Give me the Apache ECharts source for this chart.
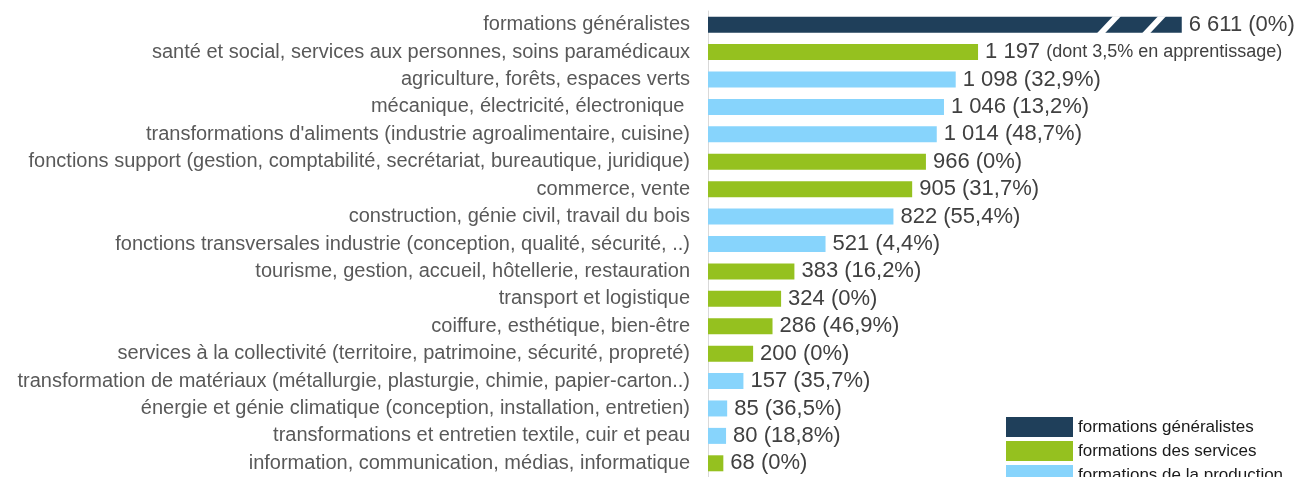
<!DOCTYPE html>
<html>
<head>
<meta charset="utf-8">
<script src="https://cdn.jsdelivr.net/npm/echarts@6/dist/echarts.min.js"></script>
<style>
  html, body { margin: 0; padding: 0; background: #fff; }
  #chart { width: 1296px; height: 477px; }
</style>
</head>
<body>
<div id="chart"></div>
<script>
var categories = [
    'formations généralistes',
    'santé et social, services aux personnes, soins paramédicaux',
    'agriculture, forêts, espaces verts',
    'mécanique, électricité, électronique ',
    "transformations d'aliments (industrie agroalimentaire, cuisine)",
    'fonctions support (gestion, comptabilité, secrétariat, bureautique, juridique)',
    'commerce, vente',
    'construction, génie civil, travail du bois',
    'fonctions transversales industrie (conception, qualité, sécurité, ..)',
    'tourisme, gestion, accueil, hôtellerie, restauration',
    'transport et logistique',
    'coiffure, esthétique, bien-être',
    'services à la collectivité (territoire, patrimoine, sécurité, propreté)',
    'transformation de matériaux (métallurgie, plasturgie, chimie, papier-carton..)',
    'énergie et génie climatique (conception, installation, entretien)',
    'transformations et entretien textile, cuir et peau',
    'information, communication, médias, informatique'
];
var values = [6611, 1197, 1098, 1046, 1014, 966, 905, 822, 521, 383, 324, 286, 200, 157, 85, 80, 68];
var shares = ['0%', 'dont 3,5% en apprentissage', '32,9%', '13,2%', '48,7%', '0%', '31,7%', '55,4%',
    '4,4%', '16,2%', '0%', '46,9%', '0%', '35,7%', '36,5%', '18,8%', '0%'];
var groups = ['gen', 'serv', 'prod', 'prod', 'prod', 'serv', 'serv', 'prod',
    'prod', 'serv', 'serv', 'serv', 'serv', 'prod', 'prod', 'prod', 'serv'];
var groupNames = {
    gen: 'formations généralistes',
    serv: 'formations des services',
    prod: 'formations de la production'
};
var groupColors = { gen: '#1f3f5a', serv: '#95c11f', prod: '#87d4fc' };

// bar drawn only up to this value, then cut with break marks
var barCap = 2100;
var breakMarks = [1724, 1924];

function fmt(n) {
    return String(n).replace(/\B(?=(\d{3})+(?!\d))/g, ' ');
}

function seriesFor(key) {
    return {
        name: groupNames[key],
        type: 'bar',
        stack: 'one',
        barWidth: 16,
        itemStyle: { color: groupColors[key] },
        label: {
            show: true,
            position: 'right',
            distance: 7,
            color: '#404040',
            fontSize: 22,
            fontFamily: 'Liberation Sans, Arial',
            formatter: function (p) {
                var i = p.dataIndex;
                var s = shares[i];
                if (s.indexOf('dont') === 0) {
                    return fmt(values[i]) + ' {small|(' + s + ')}';
                }
                return fmt(values[i]) + ' (' + s + ')';
            },
            rich: {
                small: { fontSize: 18, color: '#404040', fontFamily: 'Liberation Sans, Arial' }
            }
        },
        data: values.map(function (v, i) {
            return groups[i] === key ? Math.min(v, barCap) : null;
        })
    };
}

var dom = document.getElementById('chart');
var myChart = echarts.init(dom);

var option = {
    animation: false,
    grid: { left: 708, top: 11, width: 564, height: 470 },
    legend: {
        orient: 'vertical',
        left: 1006,
        top: 417,
        height: 90,
        padding: 0,
        itemWidth: 67,
        itemHeight: 20,
        itemGap: 4,
        icon: 'rect',
        textStyle: { fontSize: 17, color: '#1a1a1a', fontFamily: 'Liberation Sans, Arial' },
        data: [groupNames.gen, groupNames.serv, groupNames.prod]
    },
    xAxis: { type: 'value', min: 0, max: 2500, show: false },
    yAxis: {
        type: 'category',
        inverse: true,
        data: categories,
        axisLine: { show: true, lineStyle: { color: '#d9d9d9', width: 1 } },
        axisTick: { show: false },
        axisLabel: {
            color: '#595959',
            fontSize: 20,
            margin: 18,
            fontFamily: 'Liberation Sans, Arial'
        }
    },
    series: [
        seriesFor('gen'),
        seriesFor('serv'),
        seriesFor('prod'),
        {
            type: 'custom',
            silent: true,
            z: 10,
            data: breakMarks.map(function (x) { return [x, 0]; }),
            renderItem: function (params, api) {
                var p = api.coord([api.value(0), api.value(1)]);
                var h = 8.5;
                return {
                    type: 'polygon',
                    shape: {
                        points: [
                            [p[0], p[1] + h],
                            [p[0] + 8, p[1] + h],
                            [p[0] + 24, p[1] - h],
                            [p[0] + 16, p[1] - h]
                        ]
                    },
                    style: { fill: '#ffffff' }
                };
            }
        }
    ]
};

if (option && typeof option === 'object') {
    myChart.setOption(option);
}
</script>
</body>
</html>
